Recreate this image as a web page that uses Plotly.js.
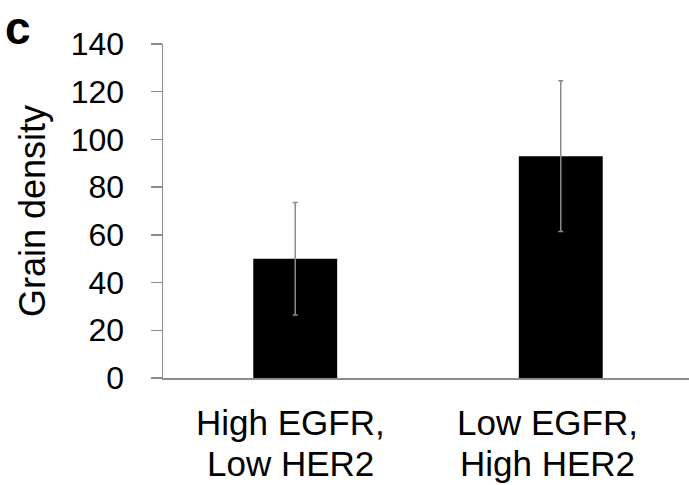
<!DOCTYPE html>
<html>
<head>
<meta charset="utf-8">
<script src="https://cdn.plot.ly/plotly-3.0.1.min.js"></script>
<style>html,body{margin:0;padding:0;background:#fff;}#chart{width:689px;height:485px;}</style>
</head>
<body>
<div id="chart"></div>
<script>
const categories = ["High EGFR,<br>Low HER2", "Low EGFR,<br>High HER2"];
const grainDensity = [50, 93];
const errorValues = [23.6, 31.6];
const yTickValues = [0, 20, 40, 60, 80, 100, 120, 140];
const panelLabel = "c";
const yTitle = "Grain density";

const FONT = "Liberation Sans, Arial, sans-serif";
const AXIS_GRAY = "#8c8c8c";

const xIdx = categories.map((_, i) => i);

const trace = {
  type: "bar",
  x: xIdx,
  y: grainDensity,
  width: 0.316,
  marker: {color: "#000000"},
  error_y: {type: "data", array: errorValues, visible: true, color: "#8a8a8a", thickness: 1.5, width: 2.5},
  hoverinfo: "none"
};

// category labels, one annotation per line
const labelShift = [-5, -13];
const annotations = [];
categories.forEach((c, i) => {
  c.split("<br>").forEach((line, j) => {
    annotations.push({
      x: i, xref: "x", y: 0, yref: "y",
      text: line, showarrow: false,
      xanchor: "center", yanchor: "top",
      xshift: labelShift[i], yshift: -23 - j * 41,
      font: {family: FONT, size: 35, color: "#000"}
    });
  });
});
annotations.push({
  x: 0, xref: "paper", y: 1, yref: "paper",
  xshift: -160, yshift: 44,
  text: "<b>" + panelLabel + "</b>", showarrow: false,
  xanchor: "left", yanchor: "top",
  font: {family: FONT, size: 46, color: "#000"}
});

const layout = {
  width: 689, height: 485,
  margin: {l: 163, r: 0, t: 44, b: 107, pad: 0},
  paper_bgcolor: "#fff", plot_bgcolor: "#fff",
  showlegend: false,
  xaxis: {
    range: [-0.498, 1.483],
    showticklabels: false, ticks: "",
    showgrid: false, zeroline: false,
    showline: true, linecolor: AXIS_GRAY, linewidth: 1.5,
    fixedrange: true
  },
  yaxis: {
    range: [0, 140],
    tickvals: yTickValues,
    ticktext: yTickValues.map(String),
    ticks: "outside", ticklen: 11, tickcolor: AXIS_GRAY, tickwidth: 1.5,
    showgrid: false, zeroline: false,
    showline: true, linecolor: AXIS_GRAY, linewidth: 1.5,
    tickfont: {family: FONT, size: 32, color: "#000"},
    ticklabelstandoff: 20,
    title: {text: yTitle, font: {family: FONT, size: 36, color: "#000"}, standoff: 14},
    fixedrange: true
  },
  annotations: annotations
};

Plotly.newPlot("chart", [trace], layout, {displayModeBar: false, staticPlot: true});
</script>
</body>
</html>
